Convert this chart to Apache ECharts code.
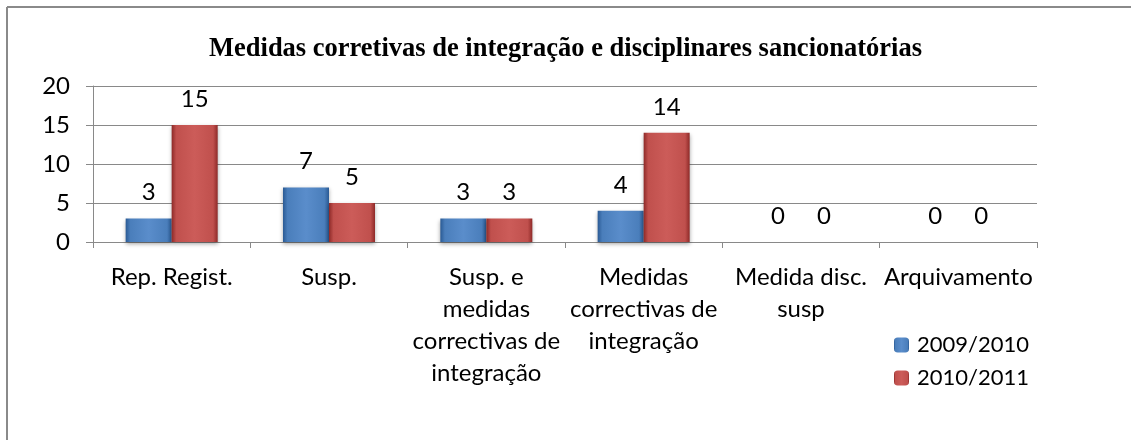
<!DOCTYPE html>
<html>
<head>
<meta charset="utf-8">
<script src="https://cdn.jsdelivr.net/npm/echarts@6/dist/echarts.min.js"></script>
<style>
  html, body { margin: 0; padding: 0; background: #fff; }
  #chart { width: 1131px; height: 440px; }
</style>
</head>
<body>
<div id="chart"></div>
<script>
// dados
const categories = ['Rep. Regist.', 'Susp.', 'Susp. e\nmedidas\ncorrectivas de\nintegração', 'Medidas\ncorrectivas de\nintegração', 'Medida disc.\nsusp', 'Arquivamento'];
const serie2009 = [3, 7, 3, 4, 0, 0];
const serie2010 = [15, 5, 3, 14, 0, 0];
const seriesNames = ['2009/2010', '2010/2011'];

// gradiente horizontal para imitar o efeito de bisel
function bevel(dark, mid, light) {
  return new echarts.graphic.LinearGradient(0, 0, 1, 0, [
    { offset: 0, color: dark },
    { offset: 0.1, color: mid },
    { offset: 0.5, color: light },
    { offset: 0.9, color: mid },
    { offset: 1, color: dark }
  ]);
}
const blue = bevel('#2a5a94', '#4a7ebb', '#5a8dcb');
const red = bevel('#8e2a28', '#c0504d', '#cc5c59');

const chart = echarts.init(document.getElementById('chart'));
const axisFont = { fontFamily: 'Lato', fontSize: 24, color: '#000' };

const option = {
  animation: false,
  title: {
    text: 'Medidas corretivas de integração e disciplinares sancionatórias',
    left: 'center',
    top: 31,
    textStyle: { fontFamily: 'Liberation Serif', fontWeight: 'bold', fontSize: 26.5, color: '#000' }
  },
  legend: {
    orient: 'vertical',
    left: 889,
    top: 329,
    itemWidth: 15,
    itemHeight: 15,
    itemGap: 11,
    data: [
      { name: seriesNames[0], itemStyle: { color: blue } },
      { name: seriesNames[1], itemStyle: { color: red } }
    ],
    textStyle: { fontFamily: 'Lato', fontSize: 22, color: '#000', padding: [0, 0, 0, 3] }
  },
  grid: { left: 93, right: 94, top: 86, bottom: 198 },
  xAxis: {
    type: 'category',
    data: categories,
    axisLine: { lineStyle: { color: '#898989', width: 1 } },
    axisTick: { show: true, length: 6, lineStyle: { color: '#898989' } },
    axisLabel: Object.assign({ margin: 19, lineHeight: 32, interval: 0, align: 'center' }, axisFont)
  },
  yAxis: {
    type: 'value',
    min: 0,
    max: 20,
    interval: 5,
    axisLine: { show: true, lineStyle: { color: '#898989' } },
    axisTick: { show: true, length: 7, lineStyle: { color: '#898989' } },
    splitLine: { lineStyle: { color: '#898989' } },
    axisLabel: Object.assign({ margin: 23 }, axisFont)
  },
  series: [
    {
      name: seriesNames[0],
      type: 'bar',
      data: serie2009,
      barWidth: 46,
      barGap: '0%',
      itemStyle: { color: blue, shadowColor: 'rgba(0,0,0,0.35)', shadowBlur: 4, shadowOffsetY: 2 },
      label: { show: true, position: 'top', distance: 14, fontFamily: 'Lato', fontSize: 24, color: '#000' }
    },
    {
      name: seriesNames[1],
      type: 'bar',
      data: serie2010,
      barWidth: 46,
      itemStyle: { color: red, shadowColor: 'rgba(0,0,0,0.35)', shadowBlur: 4, shadowOffsetY: 2 },
      label: { show: true, position: 'top', distance: 14, fontFamily: 'Lato', fontSize: 24, color: '#000' }
    }
  ],
  graphic: [
    { type: 'line', shape: { x1: 7, y1: 7, x2: 1131, y2: 7 }, style: { stroke: '#8a8a8a', lineWidth: 2 } },
    { type: 'line', shape: { x1: 7, y1: 7, x2: 7, y2: 440 }, style: { stroke: '#8a8a8a', lineWidth: 2 } }
  ]
};

chart.setOption(option);
</script>
</body>
</html>
